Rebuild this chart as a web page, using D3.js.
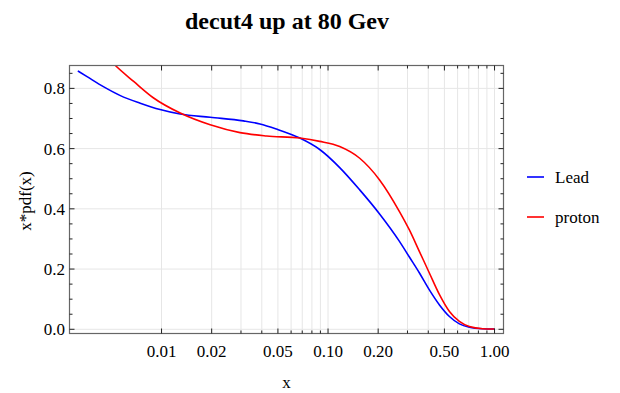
<!DOCTYPE html>
<html>
<head>
<meta charset="utf-8">
<script src="https://cdn.jsdelivr.net/npm/d3@7"></script>
<style>
  body { margin: 0; background: #fff; }
  text { font-family: "Liberation Serif", "DejaVu Serif", serif; fill: #000; }
</style>
</head>
<body>
<div id="chart"></div>
<script>
// data
var leadX = [0.00314, 0.00357, 0.0045, 0.00566, 0.00745, 0.0098, 0.01294, 0.0196, 0.031, 0.039, 0.049, 0.0677, 0.0891, 0.1175, 0.155, 0.204, 0.2685, 0.308, 0.354, 0.406, 0.467, 0.536, 0.615, 0.706, 0.847, 1.0];
var leadY = [0.858, 0.839, 0.805, 0.776, 0.751, 0.730, 0.715, 0.704, 0.692, 0.682, 0.665, 0.635, 0.597, 0.537, 0.463, 0.383, 0.292, 0.240, 0.187, 0.131, 0.081, 0.0425, 0.018, 0.007, 0.002, 0.001];

var protonX = [0.00314, 0.0042, 0.00528, 0.0068, 0.00896, 0.01294, 0.0196, 0.0296, 0.0428, 0.0677, 0.0891, 0.1175, 0.155, 0.204, 0.2685, 0.308, 0.354, 0.406, 0.467, 0.536, 0.615, 0.706, 0.847, 1.0];
var protonY = [1.0, 0.935, 0.876, 0.823, 0.768, 0.718, 0.679, 0.653, 0.642, 0.635, 0.624, 0.607, 0.568, 0.496, 0.391, 0.330, 0.258, 0.187, 0.115, 0.059, 0.026, 0.009, 0.002, 0.001];

var xTicks = [0.01, 0.02, 0.05, 0.1, 0.2, 0.5, 1];
var xTickLabels = ["0.01", "0.02", "0.05", "0.10", "0.20", "0.50", "1.00"];
var xMinor = [0.01, 0.02, 0.03, 0.04, 0.05, 0.06, 0.07, 0.08, 0.09, 0.1, 0.2, 0.3, 0.4, 0.5, 0.6, 0.7, 0.8, 0.9, 1];
var yTicks = [0, 0.2, 0.4, 0.6, 0.8];
var yMinor = [0.05, 0.1, 0.15, 0.25, 0.3, 0.35, 0.45, 0.5, 0.55, 0.65, 0.7, 0.75, 0.85];

var series = [
  { name: "Lead", color: "#0000ff", xs: leadX, ys: leadY },
  { name: "proton", color: "#ff0000", xs: protonX, ys: protonY }
];

var W = 620, H = 393;
var pLeft = 69.5, pRight = 503.5, pTop = 65.5, pBottom = 333.5;

var svg = d3.select("#chart").append("svg")
    .attr("width", W)
    .attr("height", H);

var x = d3.scaleLog().domain([0.0028, 1.132]).range([pLeft, pRight]);
var y = d3.scaleLinear().domain([-0.014, 0.876]).range([pBottom, pTop]);

// grid
svg.append("g").selectAll("line")
    .data(xMinor).enter().append("line")
    .attr("x1", function (d) { return x(d); })
    .attr("x2", function (d) { return x(d); })
    .attr("y1", pTop).attr("y2", pBottom)
    .attr("stroke", "#e6e6e6").attr("stroke-width", 1);

svg.append("g").selectAll("line")
    .data(yTicks).enter().append("line")
    .attr("x1", pLeft).attr("x2", pRight)
    .attr("y1", function (d) { return y(d); })
    .attr("y2", function (d) { return y(d); })
    .attr("stroke", "#e6e6e6").attr("stroke-width", 1);

// curves
svg.append("clipPath").attr("id", "clip")
  .append("rect")
    .attr("x", pLeft).attr("y", pTop)
    .attr("width", pRight - pLeft).attr("height", pBottom - pTop);

var line = d3.line()
    .x(function (d) { return x(d[0]); })
    .y(function (d) { return y(d[1]); })
    .curve(d3.curveMonotoneX);

series.forEach(function (s) {
    var pts = s.xs.map(function (v, i) { return [v, s.ys[i]]; });
    svg.append("path")
        .datum(pts)
        .attr("clip-path", "url(#clip)")
        .attr("fill", "none")
        .attr("stroke", s.color)
        .attr("stroke-width", 1.6)
        .attr("d", line);
});

// frame
svg.append("rect")
    .attr("x", pLeft).attr("y", pTop)
    .attr("width", pRight - pLeft).attr("height", pBottom - pTop)
    .attr("fill", "none").attr("stroke", "#666").attr("stroke-width", 1.2);

// ticks (inward, mirrored)
var tk = svg.append("g").attr("stroke", "#222").attr("stroke-width", 1);
xMinor.forEach(function (d) {
    var len = xTicks.indexOf(d) >= 0 ? 5 : 3;
    tk.append("line").attr("x1", x(d)).attr("x2", x(d)).attr("y1", pBottom).attr("y2", pBottom - len);
    tk.append("line").attr("x1", x(d)).attr("x2", x(d)).attr("y1", pTop).attr("y2", pTop + len);
});
yTicks.concat(yMinor).forEach(function (d) {
    var len = yTicks.indexOf(d) >= 0 ? 5 : 3;
    tk.append("line").attr("x1", pLeft).attr("x2", pLeft + len).attr("y1", y(d)).attr("y2", y(d));
    tk.append("line").attr("x1", pRight).attr("x2", pRight - len).attr("y1", y(d)).attr("y2", y(d));
});

// tick labels
svg.append("g").selectAll("text")
    .data(xTicks).enter().append("text")
    .attr("x", function (d) { return x(d); })
    .attr("y", 357)
    .attr("text-anchor", "middle")
    .style("font-size", "17px")
    .text(function (d, i) { return xTickLabels[i]; });

svg.append("g").selectAll("text")
    .data(yTicks).enter().append("text")
    .attr("x", 65)
    .attr("y", function (d) { return y(d) + 6; })
    .attr("text-anchor", "end")
    .style("font-size", "17px")
    .text(function (d) { return d.toFixed(1); });

// axis titles
svg.append("text")
    .attr("x", (pLeft + pRight) / 2).attr("y", 388)
    .attr("text-anchor", "middle")
    .style("font-size", "17px")
    .text("x");

svg.append("text")
    .attr("transform", "translate(31," + 201 + ") rotate(-90)")
    .attr("text-anchor", "middle")
    .style("font-size", "17px")
    .text("x*pdf(x)");

// title
svg.append("text")
    .attr("x", 287).attr("y", 29)
    .attr("text-anchor", "middle")
    .style("font-size", "24px")
    .style("font-weight", "bold")
    .text("decut4 up at 80 Gev");

// legend
var lg = svg.append("g");
series.forEach(function (s, i) {
    var ly = 177 + i * 40;
    lg.append("line")
        .attr("x1", 527).attr("x2", 544)
        .attr("y1", ly).attr("y2", ly)
        .attr("stroke", s.color).attr("stroke-width", 1.6);
    lg.append("text")
        .attr("x", 555).attr("y", ly + 6)
        .style("font-size", "17px")
        .text(s.name);
});
</script>
</body>
</html>
